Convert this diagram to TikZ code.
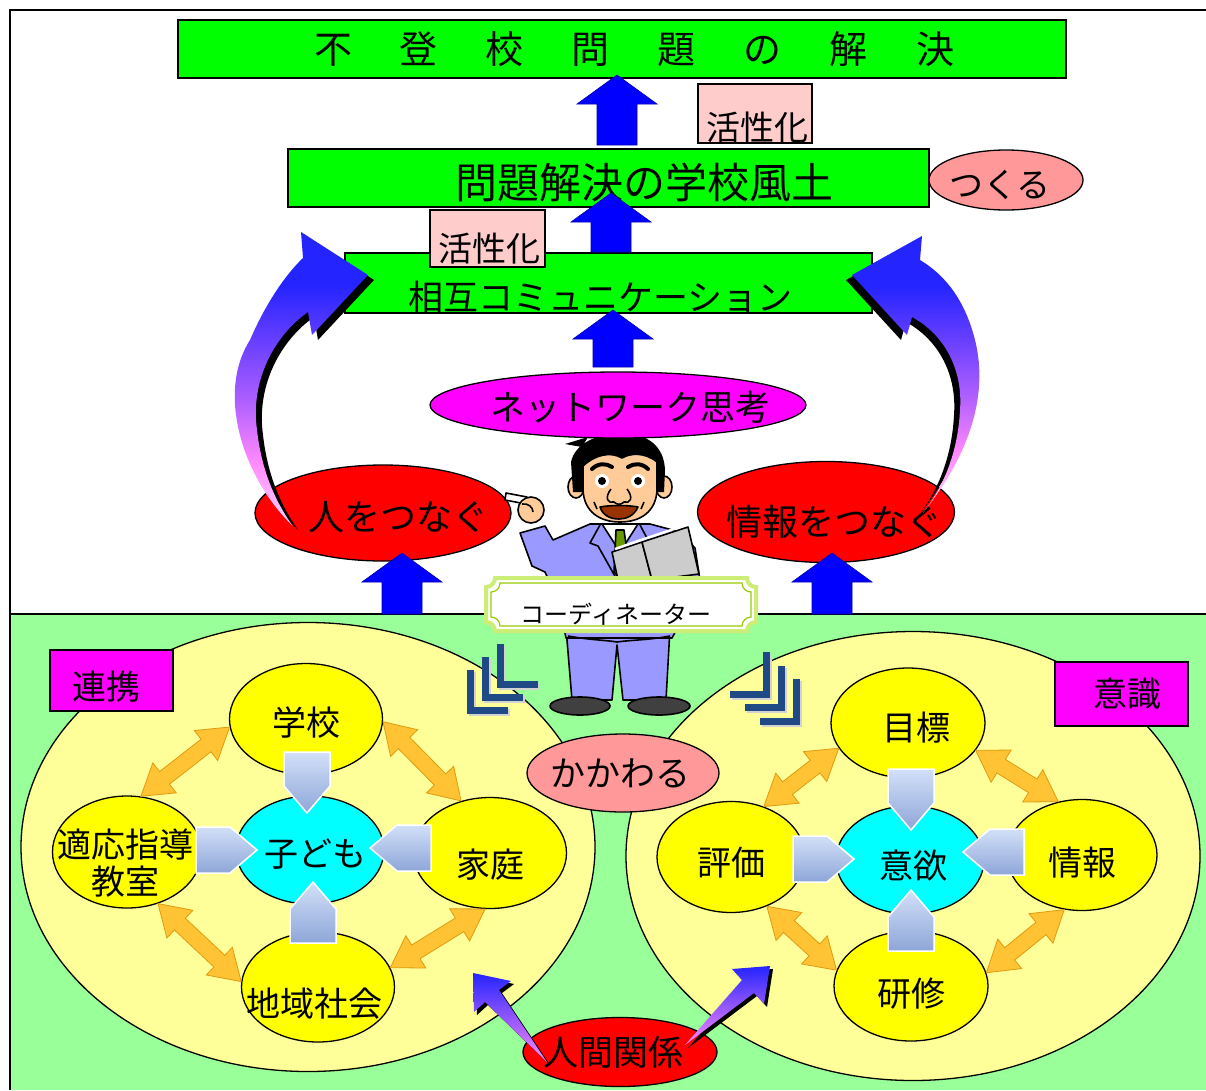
\documentclass[tikz,border=0pt]{standalone}
\usepackage{fontspec}
\setmainfont{Noto Sans CJK JP}
\usetikzlibrary{calc,shapes.geometric}

\definecolor{barGreen}{HTML}{00FF00}
\definecolor{fieldGreen}{HTML}{99FF99}
\definecolor{palePink}{HTML}{FFCCCC}
\definecolor{salmon}{HTML}{FF9999}
\definecolor{ringYellow}{HTML}{FFFF99}
\definecolor{spotYellow}{HTML}{FFFF00}
\definecolor{coreCyan}{HTML}{00FFFF}
\definecolor{markMagenta}{HTML}{FF00FF}
\definecolor{ovalRed}{HTML}{FF0000}
\definecolor{arrowBlue}{HTML}{0000FF}
\definecolor{linkOrange}{HTML}{FFC333}
\definecolor{linkEdge}{HTML}{E09A10}
\definecolor{pentaLight}{HTML}{D2E0F8}
\definecolor{pentaDark}{HTML}{8EA6D8}
\definecolor{suitBlue}{HTML}{9999FF}
\definecolor{skin}{HTML}{FFCC99}
\definecolor{mouthBrown}{HTML}{993300}
\definecolor{bookGray}{HTML}{CCCCCC}
\definecolor{shoeGray}{HTML}{404040}
\definecolor{tieGreen}{HTML}{669900}
\definecolor{plaqueGreen}{HTML}{99CC00}
\definecolor{plaqueLight}{HTML}{CCEE77}
\definecolor{navy}{HTML}{1F4A86}
\definecolor{swoopBlue}{HTML}{2424FF}
\definecolor{swoopViolet}{HTML}{6A40FF}
\definecolor{swoopMid}{HTML}{B060FF}
\definecolor{swoopPink}{HTML}{FF88FF}
\definecolor{swoopPale}{HTML}{FFD4FF}

% blue head fading to pale pink tail
\pgfdeclareverticalshading{swoop}{100bp}{color(0bp)=(swoopPale); color(25bp)=(swoopPale);
  color(36bp)=(swoopPink); color(46bp)=(swoopMid); color(56bp)=(swoopViolet);
  color(66bp)=(swoopBlue); color(100bp)=(swoopBlue)}

\newcommand{\jfs}[1]{\fontsize{#1pt}{#1pt}\selectfont}

% block arrow pointing up: centre x, bottom y, tip y
\newcommand{\blockup}[3]{%
  \filldraw[arrowBlue, draw=arrowBlue!70!black, line width=0.6pt]
    ({#1-20},#2) -- ({#1-20},{#3+29}) -- ({#1-40},{#3+29}) -- (#1,#3)
    -- ({#1+40},{#3+29}) -- ({#1+20},{#3+29}) -- ({#1+20},#2) -- cycle;}

% double headed block arrow between two border points
\newcommand{\linkarrow}[2]{%
  \coordinate (la1) at ($(#1)!30pt!(#2)$);
  \coordinate (la2) at ($(#2)!30pt!(#1)$);
  \filldraw[link] (#1) -- ($(la1)!19pt!90:(#2)$) -- ($(la1)!8pt!90:(#2)$)
    -- ($(la2)!8pt!-90:(#1)$) -- ($(la2)!19pt!-90:(#1)$) -- (#2)
    -- ($(la2)!19pt!90:(#1)$) -- ($(la2)!8pt!90:(#1)$)
    -- ($(la1)!8pt!-90:(#2)$) -- ($(la1)!19pt!-90:(#2)$) -- cycle;}

% pentagon pointer: tip x, tip y, direction
\newcommand{\pointer}[3]{%
  \begin{scope}[shift={(#1,#2)}, rotate=#3]
    \shadedraw[top color=pentaLight, bottom color=pentaDark, draw=white, line width=1.5pt]
      (0,0) -- (-27,23) -- (-61,23) -- (-61,-23) -- (-27,-23) -- cycle;
  \end{scope}}

% plaque with hollow corners
\newcommand{\plaque}[5][]{%
  \path[#1] (#2,{#3+9}) .. controls ({#2+5},{#3+9}) and ({#2+9},{#3+5}) .. ({#2+9},#3)
    -- ({#4-9},#3) .. controls ({#4-9},{#3+5}) and ({#4-5},{#3+9}) .. (#4,{#3+9})
    -- (#4,{#5-9}) .. controls ({#4-5},{#5-9}) and ({#4-9},{#5-5}) .. ({#4-9},#5)
    -- ({#2+9},#5) .. controls ({#2+9},{#5-5}) and ({#2+5},{#5-9}) .. (#2,{#5-9}) -- cycle;}

% curved arrows rising to the communication bar
\newcommand{\swoopleft}[1]{%
  \path[#1] (292,525) .. controls (245,480) and (215,395) .. (250,340)
    .. controls (265,305) and (285,275) .. (303,258) -- (301,232) -- (368,275)
    -- (312,335) -- (308,312) .. controls (275,335) and (250,380) .. (257,430)
    .. controls (262,475) and (278,505) .. (292,525) -- cycle;}
\newcommand{\swoopright}[1]{%
  \path[#1] (923,513) .. controls (965,460) and (990,400) .. (975,340)
    .. controls (965,300) and (945,275) .. (920,260) -- (922,236) -- (852,275)
    -- (907,335) -- (912,317) .. controls (945,335) and (963,370) .. (960,410)
    .. controls (958,450) and (945,485) .. (923,513) -- cycle;}

\tikzset{
  every label/.style={font=\jfs{34}, inner sep=0pt, align=center},
  bar/.style={rectangle, draw, fill=barGreen, line width=1.5pt, inner sep=0pt},
  tag/.style={rectangle, draw, fill=palePink, line width=1.2pt, inner sep=0pt},
  tagmark/.style={rectangle, draw, fill=markMagenta, line width=1.5pt, inner sep=0pt},
  oval/.style={ellipse, draw, line width=1.3pt, inner sep=0pt},
  ring/.style={ellipse, draw, fill=ringYellow, line width=1.3pt, inner sep=0pt,
    minimum width=574pt, minimum height=449pt},
  spot/.style={ellipse, draw, fill=spotYellow, line width=1.3pt, inner sep=0pt,
    minimum width=153pt, minimum height=111pt},
  core/.style={ellipse, draw, fill=coreCyan, line width=1.3pt, inner sep=0pt,
    minimum width=148pt, minimum height=108pt},
  link/.style={fill=linkOrange, draw=linkEdge, line width=0.8pt, line join=miter},
  chev/.style={draw=navy, line width=7pt, line join=miter},
  chevshade/.style={draw=gray!35, line width=7pt, line join=miter},
}

\begin{document}
\begin{tikzpicture}[x=1pt, y=-1pt]
\useasboundingbox (0,0) rectangle (1206,1090);
\fill[white] (0,0) rectangle (1206,1090);

% lower field and frame
\fill[fieldGreen] (10,614) rectangle (1206,1090);
\draw[line width=1.5pt] (10,614) -- (1206,614);
\draw[line width=2pt] (10,1090) -- (10,10) -- (1206,10);

% the two circles of the lower field
\node[ring] (ringL) at (308,847) {};
\node[ring] (ringR) at (913,856) {};

%%%%% upper part %%%%%
\node[bar, minimum width=888pt, minimum height=58pt,
  label={[font=\jfs{38}, xshift=12pt]center:不\hspace{48pt}登\hspace{48pt}校\hspace{48pt}問\hspace{48pt}題\hspace{48pt}の\hspace{48pt}解\hspace{48pt}決}]
  (goal) at (622,49) {};
\node[bar, minimum width=641pt, minimum height=58pt,
  label={[font=\jfs{42}, xshift=36pt, yshift=-4pt]center:問題解決の学校風土}]
  (climate) at (608.5,178) {};
\node[oval, fill=salmon, minimum width=154pt, minimum height=60pt,
  label={[xshift=-6pt, yshift=-5pt]center:つくる}] (tsukuru) at (1006,180) {};
\node[bar, minimum width=527pt, minimum height=60pt,
  label={[font=\jfs{35}, xshift=-8pt, yshift=-14pt]center:相互コミュニケーション}]
  (talk) at (608.5,283) {};
\node[tag, minimum width=114pt, minimum height=59pt,
  label={[xshift=2pt, yshift=-14pt]center:活性化}] (kasseiA) at (755,113.5) {};
\node[tag, minimum width=115pt, minimum height=57pt,
  label={[xshift=2pt, yshift=-10pt]center:活性化}] (kasseiB) at (487.5,238.5) {};

\blockup{617}{145}{75}
\blockup{611}{252}{193}
\blockup{613}{367}{310}

\node[oval, fill=ovalRed, minimum width=256pt, minimum height=96pt,
  label={[font=\jfs{36}, xshift=15pt, yshift=-4pt]center:人をつなぐ}] (hito) at (383,513) {};
\node[oval, fill=ovalRed, minimum width=257pt, minimum height=101pt,
  label={[font=\jfs{36}, xshift=8pt, yshift=-10pt]center:情報をつなぐ}] (jouhouOval) at (826,512) {};

% curved arrows with their shadows
\swoopleft{fill=black, shift={(6,5)}}
\swoopleft{shading=swoop}
\swoopright{fill=black, shift={(-6,5)}}
\swoopright{shading=swoop}

\blockup{402}{614}{553}
\blockup{832}{614}{553}

% coordinator
\begin{scope}[line width=1.6pt, line join=round]
  \filldraw[fill=suitBlue] (566,628) -- (572,700) -- (612,700) -- (617,645) -- (623,700)
    -- (666,700) -- (670,628) -- cycle;
  \filldraw[fill=shoeGray] (580,706) ellipse [x radius=30pt, y radius=9pt];
  \filldraw[fill=shoeGray] (659,706) ellipse [x radius=31pt, y radius=9pt];
  \filldraw[fill=suitBlue] (520,533) -- (545,526) -- (553,540) -- (590,524) -- (650,524)
    -- (680,532) -- (695,548) -- (700,580) -- (690,605) -- (672,638) -- (566,638)
    -- (558,600) -- (545,572) -- (532,566) -- cycle;
  \draw (568,636) .. controls (590,640) and (605,640) .. (617,642)
    .. controls (630,640) and (650,640) .. (670,636);
  \filldraw[fill=white] (602,524) -- (620,552) -- (638,524) -- cycle;
  \filldraw[fill=tieGreen] (616,530) -- (624,530) -- (630,572) -- (622,580) -- (614,572) -- cycle;
  \draw (600,525) -- (590,543) -- (598,546) -- (616,578);
  \draw (640,525) -- (648,540);
  % hand and chalk
  \filldraw[fill=white] (506,493) -- (527,497) -- (526,504) -- (505,500) -- cycle;
  \filldraw[fill=skin] (531,510) circle [radius=13pt];
  \draw (522,504) .. controls (528,503) and (533,507) .. (533,512);
  % book
  \filldraw[fill=bookGray] (612,552) -- (642,542) -- (652,580) -- (618,580) -- cycle;
  \filldraw[fill=bookGray] (642,542) -- (688,527) -- (699,574) -- (652,580) -- cycle;
  \draw[white, line width=2.5pt] (615,549) -- (641,540) -- (686,525);
  % head
  \filldraw[fill=skin] (576,487) ellipse [x radius=8pt, y radius=11pt];
  \filldraw[fill=skin] (664,487) ellipse [x radius=8pt, y radius=11pt];
  \fill (573,492) -- (571,462) .. controls (575,444) and (595,434) .. (622,433)
    .. controls (648,434) and (664,446) .. (665,470) -- (664,492) -- cycle;
  \fill (582,447) -- (565,444) -- (588,437) -- cycle;
  \filldraw[fill=skin] (583,466) -- (583,490) .. controls (584,512) and (600,522) .. (620,522)
    .. controls (640,522) and (656,512) .. (657,490) -- (657,462)
    .. controls (645,452) and (630,453) .. (622,458)
    .. controls (610,451) and (595,455) .. (583,466) -- cycle;
  \draw[line width=4pt, line cap=round] (592,469) .. controls (598,463) and (606,463) .. (612,467);
  \draw[line width=4pt, line cap=round] (628,467) .. controls (634,463) and (642,463) .. (648,469);
  \fill[white] (602,481) circle [radius=7pt];
  \fill[white] (638,481) circle [radius=7pt];
  \fill (602,481) circle [radius=4pt];
  \fill (638,481) circle [radius=4pt];
  \draw (611,489) .. controls (604,498) and (608,504) .. (614,502)
    .. controls (617,505) and (621,505) .. (624,502)
    .. controls (630,504) and (634,498) .. (627,489);
  \filldraw[fill=mouthBrown] (600,507) .. controls (610,505) and (628,505) .. (638,507)
    .. controls (634,516) and (626,519) .. (619,519)
    .. controls (611,519) and (603,516) .. (600,507) -- cycle;
  \draw (594,502) -- (597,509);
  \draw (644,502) -- (641,509);
\end{scope}

\plaque[fill=white, draw=plaqueLight, line width=4pt]{486}{578}{756}{631}
\plaque[draw=plaqueGreen, line width=1.2pt]{491}{583}{751}{626}
\node[font=\jfs{24}, inner sep=0pt] (coordText) at (616,614) {コーディネーター};

\node[oval, fill=markMagenta, minimum width=376pt, minimum height=66pt,
  label={[font=\jfs{35}, xshift=12pt, yshift=-2pt]center:ネットワーク思考}] (network) at (618,405) {};

%%%%% lower part %%%%%
\node[tagmark, minimum width=123pt, minimum height=61pt,
  label={[xshift=-5pt, yshift=-6pt]center:連携}] (renkei) at (111.5,680.5) {};
\node[tagmark, minimum width=133pt, minimum height=64pt,
  label={[xshift=6pt]center:意識}] (ishiki) at (1121.5,694) {};
\node[oval, fill=salmon, minimum width=192pt, minimum height=78pt,
  label={[font=\jfs{35}, xshift=-3pt]center:かかわる}] (kakawaru) at (623,773) {};

% left circle
\node[spot, label={[yshift=-4pt]center:学校}] (gakko) at (306,719) {};
\node[spot, minimum width=149pt, minimum height=112pt,
  label={[font=\fontsize{34pt}{37pt}\selectfont, xshift=-2pt, yshift=-11pt]center:適応指導\\教室}]
  (tekiou) at (127,852) {};
\node[spot, label={[yshift=-12pt]center:家庭}] (katei) at (490,853) {};
\node[spot, minimum height=110pt, label={[xshift=-4pt, yshift=-17pt]center:地域社会}] (chiiki) at (318,987) {};
\node[core, label={[xshift=5pt, yshift=-4pt]center:子ども}] (kodomo) at (310,850) {};

\linkarrow{gakko.186}{tekiou.76}
\linkarrow{gakko.358}{katei.119}
\linkarrow{tekiou.301}{chiiki.176}
\linkarrow{katei.265}{chiiki.15}

\pointer{307}{813}{-90}
\pointer{257}{850}{0}
\pointer{370}{848}{180}
\pointer{313}{882}{90}

% right circle
\node[spot, minimum width=154pt, minimum height=110pt,
  label={[xshift=8pt, yshift=-5pt]center:目標}] (mokuhyou) at (908,723) {};
\node[spot, minimum width=148pt, label={[yshift=-6pt]center:評価}] (hyouka) at (731,857) {};
\node[spot, minimum width=150pt, label={[yshift=-8pt]center:情報}] (jouhou) at (1082,855) {};
\node[spot, minimum width=154pt, minimum height=110pt,
  label={[yshift=-8pt]center:研修}] (kenshuu) at (911,986) {};
\node[core, label={[xshift=3pt, yshift=-6pt]center:意欲}] (iyoku) at (910,860) {};

\linkarrow{mokuhyou.200}{hyouka.57}
\linkarrow{mokuhyou.338}{jouhou.114}
\linkarrow{hyouka.306}{kenshuu.168}
\linkarrow{jouhou.252}{kenshuu.10}

\pointer{911}{830}{-90}
\pointer{854}{859}{0}
\pointer{963}{852}{180}
\pointer{911}{890}{90}

% chevrons beside the coordinator
\foreach \k in {0,1,2} {
  \draw[chevshade, shift={({15*\k+2},{-13*\k+2})}] (470,670) -- (470,710) -- (508,710);
  \draw[chev, shift={({15*\k},{-13*\k})}] (470,670) -- (470,710) -- (508,710);
  \draw[chevshade, shift={({15*\k+2},{13.5*\k+2})}] (730,694) -- (766,694) -- (766,652);
  \draw[chev, shift={({15*\k},{13.5*\k})}] (730,694) -- (766,694) -- (766,652);
}

\node[oval, fill=ovalRed, minimum width=194pt, minimum height=69pt,
  label={[font=\jfs{35}, xshift=-7pt]center:人間関係}] (ningen) at (620,1052) {};

% arrows out of the human relations oval
\fill[black, shift={(3,3)}] (547,1062) -- (499,990) -- (511,981) -- (473,973) -- (474,1012) -- (485,1002) -- cycle;
\shade[top color=swoopBlue, bottom color=swoopPink]
  (547,1062) -- (499,990) -- (511,981) -- (473,973) -- (474,1012) -- (485,1002) -- cycle;
\fill[black, shift={(3,3)}] (685,1045) -- (742,980) -- (732,969) -- (770,966) -- (764,1004) -- (754,993) -- cycle;
\shade[top color=swoopBlue, bottom color=swoopPink]
  (685,1045) -- (742,980) -- (732,969) -- (770,966) -- (764,1004) -- (754,993) -- cycle;

\end{tikzpicture}
\end{document}
